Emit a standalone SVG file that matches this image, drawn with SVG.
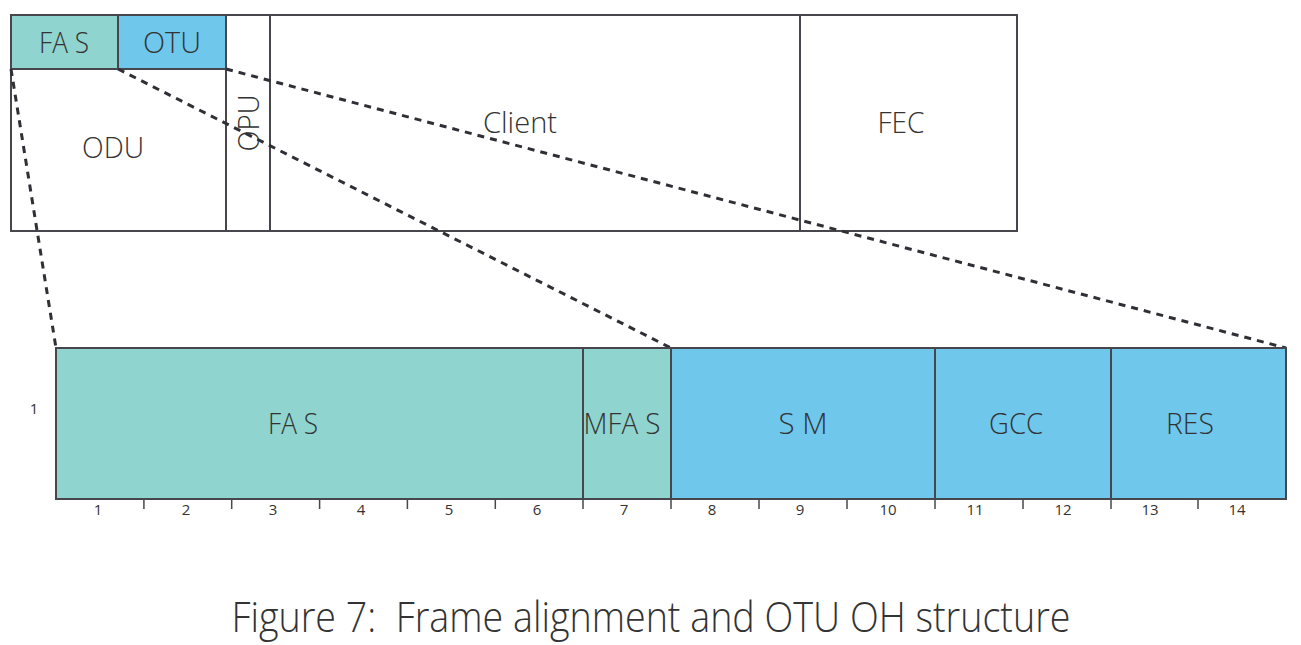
<svg xmlns="http://www.w3.org/2000/svg" width="1301" height="645" viewBox="0 0 1301 645">
<style>
.box{stroke:#46464c;stroke-width:2}
.t{font-family:"Open Sans","Liberation Sans",sans-serif;font-weight:300;fill:#333;text-anchor:middle}
.lbl{font-size:30px}
.num{font-size:15px;font-weight:400}
.tick{stroke:#46464c;stroke-width:1.5}
.dash{stroke:#2f3036;stroke-width:3;stroke-dasharray:7 6;fill:none}
</style>
<rect width="1301" height="645" fill="#fff"/>
<g id="top-frame">
  <rect class="box" x="11" y="15" width="1006" height="216" fill="#fff"/>
</g>
<g id="odu">
  <rect class="box" x="11" y="69" width="215" height="162" fill="#fff"/>
  <text class="t lbl" x="113" y="158" textLength="62" lengthAdjust="spacingAndGlyphs">ODU</text>
</g>
<g id="fas-top">
  <rect class="box" x="11" y="15" width="107" height="54" fill="#8fd4ce"/>
  <text class="t lbl" x="64" y="53" textLength="50" lengthAdjust="spacingAndGlyphs">FA S</text>
</g>
<g id="otu-top">
  <rect class="box" x="118" y="15" width="108" height="54" fill="#6fc7ec"/>
  <text class="t lbl" x="172" y="53" textLength="58" lengthAdjust="spacingAndGlyphs">OTU</text>
</g>
<g id="opu">
  <rect class="box" x="226" y="15" width="44" height="216" fill="#fff"/>
  <text class="t lbl" transform="translate(259,123) rotate(-90)" x="0" y="0" textLength="57" lengthAdjust="spacingAndGlyphs">OPU</text>
</g>
<g id="client">
  <rect class="box" x="270" y="15" width="530" height="216" fill="none"/>
  <text class="t lbl" x="520" y="133" textLength="74" lengthAdjust="spacingAndGlyphs">Client</text>
</g>
<g id="fec">
  <rect class="box" x="800" y="15" width="217" height="216" fill="none"/>
  <text class="t lbl" x="901" y="133" textLength="47" lengthAdjust="spacingAndGlyphs">FEC</text>
</g>
<g id="connectors">
  <line class="dash" x1="11" y1="69" x2="56" y2="348"/>
  <line class="dash" x1="118" y1="69" x2="671" y2="348"/>
  <line class="dash" x1="226" y1="69" x2="1286" y2="348"/>
</g>
<g id="fas-oh">
  <rect class="box" x="56" y="348" width="527" height="151" fill="#8fd4ce"/>
  <text class="t lbl" x="293" y="434" textLength="50" lengthAdjust="spacingAndGlyphs">FA S</text>
</g>
<g id="mfas-oh">
  <rect class="box" x="583" y="348" width="88" height="151" fill="#8fd4ce"/>
  <text class="t lbl" x="622" y="434" textLength="77" lengthAdjust="spacingAndGlyphs">MFA S</text>
</g>
<g id="sm-oh">
  <rect class="box" x="671" y="348" width="264" height="151" fill="#6fc7ec"/>
  <text class="t lbl" x="803" y="434" textLength="49" lengthAdjust="spacingAndGlyphs">S M</text>
</g>
<g id="gcc-oh">
  <rect class="box" x="935" y="348" width="176" height="151" fill="#6fc7ec"/>
  <text class="t lbl" x="1016" y="434" textLength="54" lengthAdjust="spacingAndGlyphs">GCC</text>
</g>
<g id="res-oh">
  <rect class="box" x="1111" y="348" width="175" height="151" fill="#6fc7ec"/>
  <text class="t lbl" x="1190" y="434" textLength="48" lengthAdjust="spacingAndGlyphs">RES</text>
</g>
<g id="scale">
  <g class="tick">
    <line x1="143.9" y1="499" x2="143.9" y2="509"/>
    <line x1="231.7" y1="499" x2="231.7" y2="509"/>
    <line x1="319.6" y1="499" x2="319.6" y2="509"/>
    <line x1="407.4" y1="499" x2="407.4" y2="509"/>
    <line x1="495.3" y1="499" x2="495.3" y2="509"/>
    <line x1="583" y1="499" x2="583" y2="509"/>
    <line x1="671" y1="499" x2="671" y2="509"/>
    <line x1="759" y1="499" x2="759" y2="509"/>
    <line x1="847" y1="499" x2="847" y2="509"/>
    <line x1="935" y1="499" x2="935" y2="509"/>
    <line x1="1023" y1="499" x2="1023" y2="509"/>
    <line x1="1111" y1="499" x2="1111" y2="509"/>
    <line x1="1198" y1="499" x2="1198" y2="509"/>
  </g>
  <text class="t num" x="98" y="515">1</text>
  <text class="t num" x="186" y="515">2</text>
  <text class="t num" x="273" y="515">3</text>
  <text class="t num" x="361" y="515">4</text>
  <text class="t num" x="449" y="515">5</text>
  <text class="t num" x="537" y="515">6</text>
  <text class="t num" x="624" y="515">7</text>
  <text class="t num" x="712" y="515">8</text>
  <text class="t num" x="800" y="515">9</text>
  <text class="t num" x="888" y="515">10</text>
  <text class="t num" x="975" y="515">11</text>
  <text class="t num" x="1063" y="515">12</text>
  <text class="t num" x="1150" y="515">13</text>
  <text class="t num" x="1237" y="515">14</text>
  <text class="t num" x="34" y="414">1</text>
</g>
<text class="t" x="651" y="632" font-size="42" style="white-space:pre" textLength="839" lengthAdjust="spacingAndGlyphs">Figure 7:  Frame alignment and OTU OH structure</text>
</svg>
